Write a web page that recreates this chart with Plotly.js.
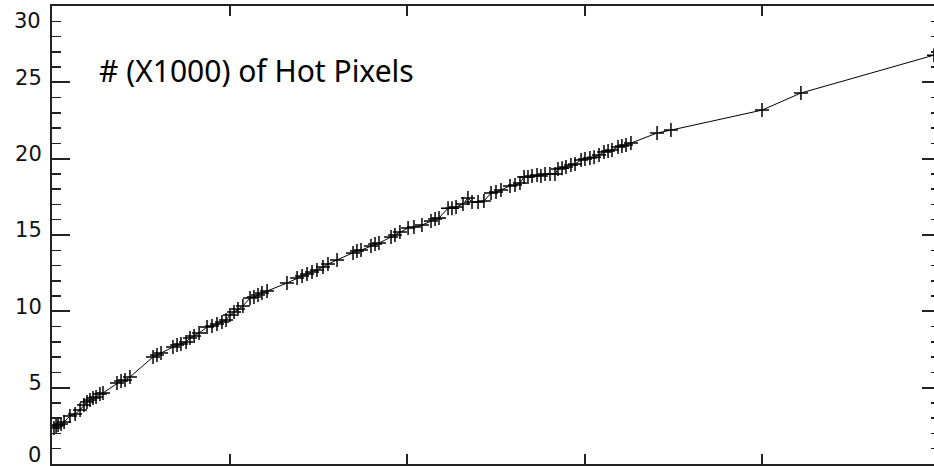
<!DOCTYPE html>
<html><head><meta charset="utf-8">
<script src="https://cdn.plot.ly/plotly-3.0.1.min.js"></script>
<style>html,body{margin:0;padding:0;overflow:hidden;background:#fff}#chart{width:942px;height:466px}</style>
</head><body><div id="chart"></div>
<script>
const xVals = [0.011,0.023,0.034,0.051,0.068,0.101,0.130,0.158,0.180,0.197,0.214,0.231,0.248,0.270,0.287,
0.366,0.389,0.411,0.439,0.569,0.591,0.614,0.681,0.704,0.726,0.755,0.777,0.800,0.828,0.873,0.901,0.929,0.957,0.980,
1.002,1.025,1.047,1.075,1.115,1.137,1.160,1.182,1.211,1.323,1.380,1.408,1.436,1.464,1.492,1.526,1.554,1.605,
1.695,1.717,1.740,1.796,1.819,1.841,1.909,1.931,1.959,2.005,2.038,2.083,2.134,2.157,2.179,2.230,2.252,2.275,
2.314,2.342,2.365,2.399,2.432,2.472,2.500,2.528,2.579,2.607,2.635,2.658,2.680,2.703,2.731,2.753,2.776,2.804,2.832,
2.849,2.872,2.894,2.922,2.945,2.979,3.001,3.029,3.052,3.080,3.108,3.131,3.153,3.187,3.209,3.232,3.260,
3.407,3.485,3.998,4.217,4.966];
const yVals = [2.36,2.49,2.55,2.62,2.75,3.14,3.27,3.54,3.86,4.06,4.19,4.32,4.39,4.58,4.65,
5.30,5.44,5.50,5.70,7.01,7.14,7.27,7.66,7.79,7.86,7.99,8.25,8.38,8.58,8.97,9.04,9.17,9.30,9.43,
9.76,9.95,10.15,10.35,10.87,10.94,11.07,11.20,11.33,11.85,12.18,12.31,12.44,12.57,12.70,12.90,13.10,13.36,
13.82,13.95,14.01,14.28,14.41,14.47,14.87,15.00,15.19,15.46,15.52,15.65,15.91,16.04,16.11,16.76,16.76,16.83,
17.03,17.42,17.16,17.16,17.22,17.75,17.81,17.94,18.21,18.27,18.40,18.80,18.80,18.86,18.93,18.86,18.99,18.99,18.99,
19.32,19.38,19.45,19.58,19.65,19.91,19.97,20.04,20.10,20.24,20.43,20.50,20.56,20.76,20.83,20.89,21.02,
21.68,21.87,23.18,24.30,26.78];
const yTickVals = [5,10,15,20,25];
const yTickText = ['5','10','15','20','25'];
const xTickVals = [1,2,3,4];
const edgeLabels = [{v:29.05,t:'30'},{v:0.6,t:'0'}];
const titleText = '# (X1000) of Hot Pixels';

const tickFont = {family:'DejaVu Sans', size:21, color:'#111'};
const trace = {
  x:xVals, y:yVals, mode:'lines+markers', type:'scatter',
  line:{color:'#000', width:1},
  marker:{symbol:'cross-thin-open', size:10, color:'#000', line:{color:'#000', width:1.5}},
  hoverinfo:'skip'
};
const annotations = edgeLabels.map(e=>({xref:'paper', yref:'y', x:0, y:e.v, text:e.t, showarrow:false,
  xanchor:'right', yanchor:'middle', xshift:-9, font:tickFont}));
annotations.push({xref:'paper', yref:'y', x:0.051, y:25.8, text:titleText, showarrow:false,
  xanchor:'left', yanchor:'middle', font:{family:'Noto Sans', size:30, color:'#000'}});
const layout = {
  width:942, height:466, margin:{l:52, r:2, t:6, b:2},
  paper_bgcolor:'#fff', plot_bgcolor:'#fff', showlegend:false,
  xaxis:{range:[0,5], tickvals:xTickVals, showticklabels:false, ticks:'inside', ticklen:10, tickwidth:2,
    tickcolor:'#222', showline:true, linecolor:'#222', linewidth:2, mirror:'ticks', showgrid:false, zeroline:false},
  yaxis:{range:[0,30], tickvals:yTickVals, ticktext:yTickText, ticks:'inside', ticklen:18, tickwidth:2,
    tickcolor:'#222', showline:true, linecolor:'#222', linewidth:2, mirror:'ticks', showgrid:false, zeroline:false,
    tickfont:tickFont, ticklabelshift:-5, ticklabelstandoff:4,
    minor:{dtick:1, ticks:'inside', ticklen:9, tickwidth:1.5, tickcolor:'#222', showgrid:false}},
  annotations:annotations
};
Plotly.newPlot('chart',[trace],layout,{staticPlot:true, displayModeBar:false});
</script></body></html>
